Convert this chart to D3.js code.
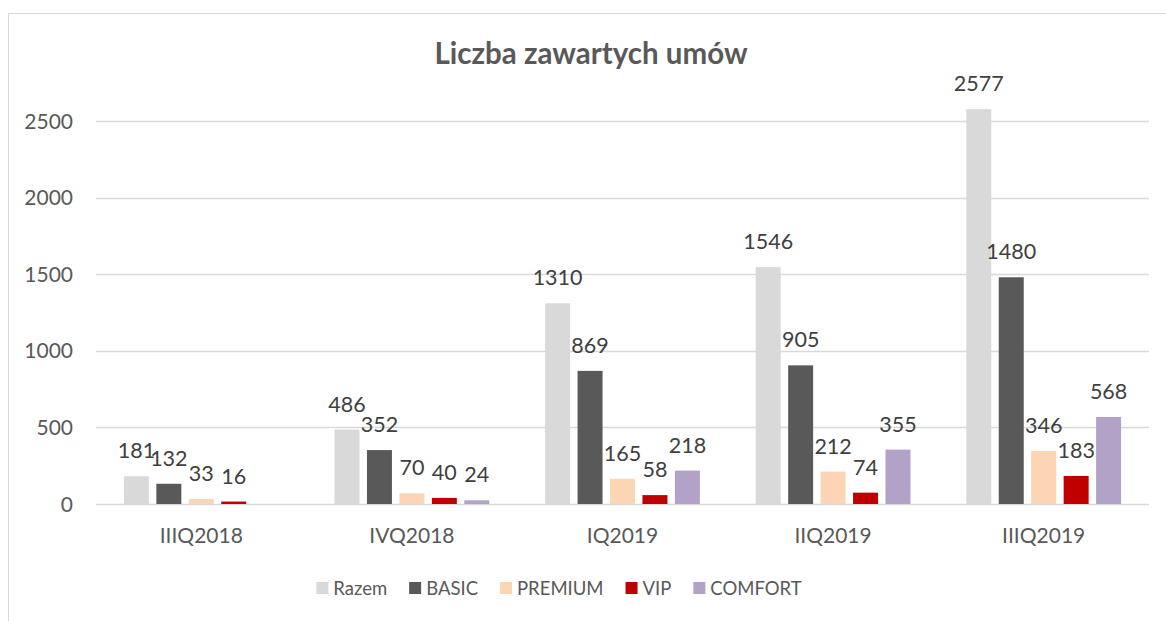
<!DOCTYPE html>
<html>
<head>
<meta charset="utf-8">
<script src="https://cdn.jsdelivr.net/npm/d3@7"></script>
<style>
  body { margin: 0; background: #fff; }
  text { font-family: Lato, "Open Sans", sans-serif; }
</style>
</head>
<body>
<svg width="1166" height="621"></svg>
<script>
var categories = ["IIIQ2018", "IVQ2018", "IQ2019", "IIQ2019", "IIIQ2019"];
var seriesNames = ["Razem", "BASIC", "PREMIUM", "VIP", "COMFORT"];
var razem = [181, 486, 1310, 1546, 2577];
var basic = [132, 352, 869, 905, 1480];
var premium = [33, 70, 165, 212, 346];
var vip = [16, 40, 58, 74, 183];
var comfort = [null, 24, 218, 355, 568];
var yTicks = [0, 500, 1000, 1500, 2000, 2500];
var colors = ["#d9d9d9", "#595959", "#fcd5b5", "#c00000", "#b3a2c7"];

var values = [razem, basic, premium, vip, comfort];

var svg = d3.select("svg");

// chart frame (only left and top edges fall inside the window)
svg.append("rect")
    .attr("x", 8.5).attr("y", 13.5)
    .attr("width", 1200).attr("height", 700)
    .attr("fill", "none")
    .attr("stroke", "#d9d9d9");

var x0 = d3.scaleBand()
    .domain(categories)
    .range([96, 1149]);

var x1 = d3.scaleBand()
    .domain(seriesNames)
    .range([0, x0.bandwidth()])
    .paddingInner(0.23)
    .paddingOuter(0.86);

var y = d3.scaleLinear()
    .domain([0, 2500])
    .range([504, 121]);

// gridlines
svg.append("g").selectAll("line")
    .data(yTicks)
    .enter().append("line")
    .attr("x1", 96).attr("x2", 1149)
    .attr("y1", function(d) { return Math.round(y(d)) + 0.5; })
    .attr("y2", function(d) { return Math.round(y(d)) + 0.5; })
    .attr("stroke", "#d9d9d9")
    .attr("stroke-width", 1.3);

// y tick labels
svg.append("g").selectAll("text")
    .data(yTicks)
    .enter().append("text")
    .attr("x", 73)
    .attr("y", function(d) { return y(d) + 7.5; })
    .attr("text-anchor", "end")
    .attr("fill", "#595959")
    .attr("font-size", 21)
    .text(function(d) { return d; });

// category labels
svg.append("g").selectAll("text")
    .data(categories)
    .enter().append("text")
    .attr("x", function(d) { return x0(d) + x0.bandwidth() / 2; })
    .attr("y", 543)
    .attr("text-anchor", "middle")
    .attr("fill", "#595959")
    .attr("font-size", 21)
    .text(function(d) { return d; });

// bars
var cells = [];
for (var s = 0; s < seriesNames.length; s++) {
    for (var c = 0; c < categories.length; c++) {
        if (values[s][c] != null) {
            cells.push({ series: seriesNames[s], cat: categories[c], value: values[s][c], color: colors[s] });
        }
    }
}

svg.append("g").selectAll("rect")
    .data(cells)
    .enter().append("rect")
    .attr("x", function(d) { return x0(d.cat) + x1(d.series); })
    .attr("y", function(d) { return y(d.value); })
    .attr("width", x1.bandwidth())
    .attr("height", function(d) { return y(0) - y(d.value); })
    .attr("fill", function(d) { return d.color; });

// data labels
svg.append("g").selectAll("text")
    .data(cells)
    .enter().append("text")
    .attr("x", function(d) { return x0(d.cat) + x1(d.series) + x1.bandwidth() / 2; })
    .attr("y", function(d) { return y(d.value) - 18; })
    .attr("text-anchor", "middle")
    .attr("fill", "#404040")
    .attr("font-size", 21.5)
    .text(function(d) { return d.value; });

// title
svg.append("text")
    .attr("x", 591)
    .attr("y", 64)
    .attr("text-anchor", "middle")
    .attr("fill", "#595959")
    .attr("font-size", 29.5)
    .attr("font-weight", "bold")
    .text("Liczba zawartych umów");

// legend
var legend = svg.append("g");
var lx = 0;
var gap = 22;
seriesNames.forEach(function(name, i) {
    var g = legend.append("g").attr("transform", "translate(" + lx + ",0)");
    g.append("rect")
        .attr("x", 0).attr("y", -13)
        .attr("width", 12).attr("height", 12)
        .attr("fill", colors[i]);
    var t = g.append("text")
        .attr("x", 17).attr("y", 0)
        .attr("fill", "#595959")
        .attr("font-size", 18.5)
        .text(name);
    lx += 17 + t.node().getComputedTextLength() + gap;
});
var legendWidth = lx - gap;
legend.attr("transform", "translate(" + (559 - legendWidth / 2) + ",595)");
</script>
</body>
</html>
